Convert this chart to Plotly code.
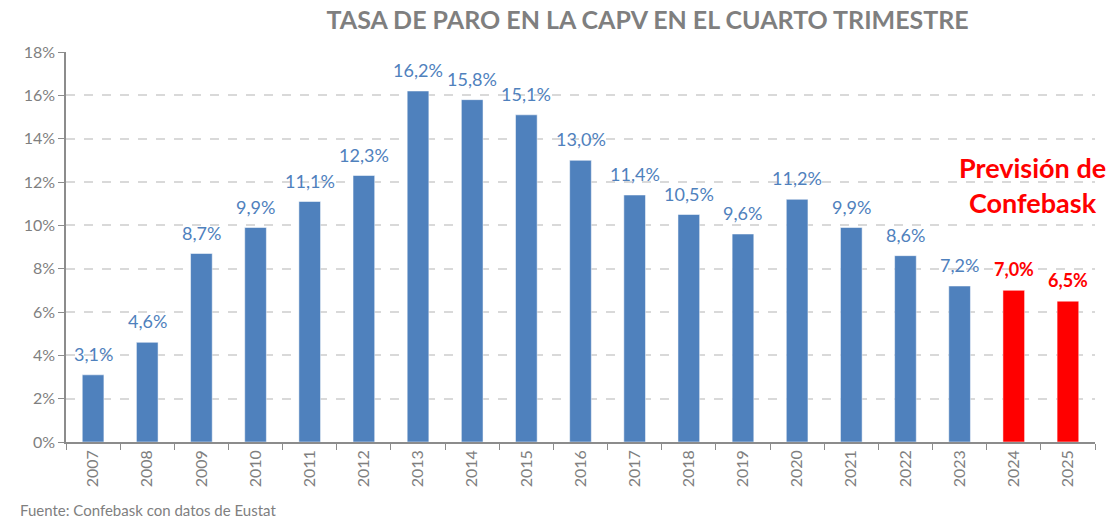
import plotly.graph_objects as go

# datos
years = [str(y) for y in range(2007, 2026)]
paro = [3.1, 4.6, 8.7, 9.9, 11.1, 12.3, 16.2, 15.8, 15.1, 13.0, 11.4, 10.5, 9.6, 11.2, 9.9, 8.6, 7.2, 7.0, 6.5]
prevision = ["2024", "2025"]
y_ticks = list(range(0, 20, 2))
y_tick_labels = [f"{t}%" for t in y_ticks]

BLUE = "#4f81bd"
RED = "#ff0000"
GREY = "#7f7f7f"
FONT = "Lato, Noto Sans, sans-serif"

colors = [RED if y in prevision else BLUE for y in years]

fig = go.Figure()
fig.add_trace(go.Bar(
    x=years, y=paro,
    marker_color=colors,
    marker_line_width=1, marker_line_color="rgba(255,255,255,0.5)",
    hovertemplate="%{x}: %{y:.1f}%<extra></extra>",
))

# etiquetas de datos encima de cada barra (x = indice de categoria)
for i, (y, v, c) in enumerate(zip(years, paro, colors)):
    s = f"{v:.1f}%".replace(".", ",")
    if y in prevision:
        s = f"<b>{s}</b>"
    fig.add_annotation(
        x=i, y=v, text=s, showarrow=False,
        xanchor="center", yanchor="middle", yshift=21,
        font=dict(color=c, size=18, family=FONT),
    )

fig.add_annotation(
    x=0.939, y=0.66, xref="paper", yref="paper",
    text="<b>Previsión de<br>Confebask</b>",
    showarrow=False, font=dict(color=RED, size=27, family=FONT),
    align="center", xanchor="center", yanchor="middle",
)

fig.add_annotation(
    x=-0.047, y=-0.174, xref="paper", yref="paper",
    xanchor="left", yanchor="middle",
    text="Fuente: Confebask con datos de Eustat",
    showarrow=False, font=dict(color=GREY, size=15, family=FONT),
)

fig.update_layout(
    width=1109, height=519,
    margin=dict(l=66, r=14, t=52, b=77),
    title=dict(text="<b>TASA DE PARO EN LA CAPV EN EL CUARTO TRIMESTRE</b>",
               x=0.584, xanchor="center", y=0.961, yanchor="middle",
               font=dict(size=25, color=GREY, family=FONT)),
    plot_bgcolor="white", paper_bgcolor="white",
    bargap=0.6,
    showlegend=False,
    font=dict(family=FONT),
)
fig.update_xaxes(
    type="category", range=[-0.5, len(years) - 0.5],
    showline=True, linecolor="#8c8c8c", linewidth=1.5,
    ticks="outside", ticklen=6, tickcolor="#8c8c8c",
    tickson="boundaries",
    tickangle=-90, tickfont=dict(size=16, color=GREY),
)
fig.update_yaxes(
    range=[0, 18], tickmode="array", tickvals=y_ticks, ticktext=y_tick_labels,
    showline=True, linecolor="#8c8c8c", linewidth=1.5,
    ticks="outside", ticklen=6, tickcolor="#8c8c8c",
    showgrid=True, gridcolor="#d9d9d9", griddash="dash", gridwidth=1.5,
    tickfont=dict(size=16, color=GREY),
    zeroline=False,
)

# quitar el margen por defecto del body para que la figura ocupe la ventana
fig.write_html("out.html", config={"displayModeBar": False},
               post_script="document.body.style.margin='0';")
